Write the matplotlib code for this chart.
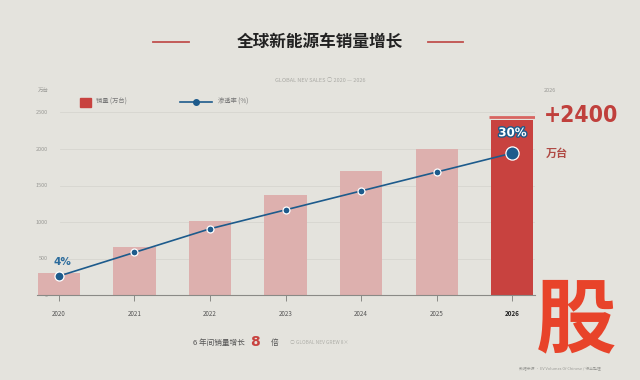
import matplotlib
matplotlib.use("Agg")
import matplotlib.pyplot as plt
import matplotlib.patheffects as pe
from matplotlib.lines import Line2D
from matplotlib.patches import Rectangle

plt.rcParams['font.family'] = ['Noto Sans CJK SC', 'DejaVu Sans']

years = ["2020", "2021", "2022", "2023", "2024", "2025", "2026"]
sales = [300, 660, 1010, 1370, 1700, 2000, 2400]          # 万台
penetration = [4, 9, 14, 18, 22, 26, 30]                   # %
y_ticks = [0, 500, 1000, 1500, 2000, 2500]

BG = "#e4e3dd"
PINK = "#ddb0ae"
RED = "#c8423f"
BLUE = "#1d5b8c"

W, H = 640, 380
fig = plt.figure(figsize=(W / 100, H / 100), dpi=100, facecolor=BG)

def fx(px):
    return px / W

def fy(py):
    return 1 - py / H

# main axes: x 37..535 px, y 90.6..295 px
ax = fig.add_axes([fx(37), fy(295), (535 - 37) / W, (295 - 90.6) / H])
ax.set_facecolor("none")
x = list(range(len(years)))
colors = [PINK] * (len(years) - 1) + [RED]
ax.bar(x, sales, width=0.56, color=colors, zorder=2)
ax.hlines(sales[-1] + 40, x[-1] - 0.31, x[-1] + 0.31, color="#d86561", lw=2, zorder=3)

ax.set_xlim(-0.29, 6.30)
ax.set_ylim(0, 2800)
for t in y_ticks[1:]:
    ax.axhline(t, xmin=0.046, xmax=1.0, color="#d6d5cf", lw=0.6, zorder=0)

for s in ["top", "right", "left"]:
    ax.spines[s].set_visible(False)
ax.spines["bottom"].set_color("#8a8a86")
ax.spines["bottom"].set_linewidth(0.8)

ax.set_xticks(x)
ax.set_xticklabels(years)
ax.tick_params(axis="x", length=4, width=0.7, color="#8a8a86", pad=7,
               labelsize=4.5, labelcolor="#555555")
ax.get_xticklabels()[-1].set_fontweight("bold")
ax.get_xticklabels()[-1].set_color("#222222")
ax.set_yticks(y_ticks)
ax.set_yticklabels([str(v) for v in y_ticks])
ax.tick_params(axis="y", length=0, pad=-8, labelsize=4, labelcolor="#9a9a96")

# penetration line on secondary scale
ax2 = ax.twinx()
ax2.set_ylim(0, 2800 / 64.8)
ax2.axis("off")
ax2.plot(x, penetration, color=BLUE, lw=1.2, zorder=4)
sizes = [6.5, 5, 5, 5, 5, 5, 9.5]
for xi, pv, ms in zip(x, penetration, sizes):
    ax2.plot(xi, pv, "o", color=BLUE, ms=ms, mec="white", mew=0.9, zorder=5)

ax2.text(x[0] + 0.04, penetration[0] + 2.9, f"{penetration[0]}%", color="#2b6b9c",
         fontsize=7.5, ha="center", va="center", fontweight="bold", family="DejaVu Sans")
ax2.text(x[-1], penetration[-1] + 4.3, f"{penetration[-1]}%", color="white",
         fontsize=8.5, ha="center", va="center", fontweight="bold", family="DejaVu Sans",
         path_effects=[pe.withStroke(linewidth=2, foreground=BLUE)], zorder=6)

# title
fig.text(0.5, fy(42), "全球新能源车销量增长", ha="center", va="center",
         fontsize=12, color="#222222", fontweight="bold")
fig.add_artist(Line2D([fx(153), fx(189)], [fy(42), fy(42)], color="#c0504d", lw=1.3))
fig.add_artist(Line2D([fx(428), fx(463)], [fy(42), fy(42)], color="#c0504d", lw=1.3))
fig.text(0.5, fy(80), "GLOBAL NEV SALES ○ 2020 — 2026", ha="center", va="center",
         fontsize=4, color="#aaaaa5")

# legend
fig.add_artist(Rectangle((fx(80), fy(107)), fx(11), 9 / H, color=RED))
fig.text(fx(96), fy(102), "销量 (万台)", ha="left", va="center", fontsize=4.5, color="#777777")
fig.add_artist(Line2D([fx(180), fx(212)], [fy(102), fy(102)], color=BLUE, lw=1.2))
fig.add_artist(Line2D([fx(196)], [fy(102)], marker="o", color=BLUE, ms=4))
fig.text(fx(218), fy(102), "渗透率 (%)", ha="left", va="center", fontsize=4.5, color="#777777")
fig.text(fx(43), fy(90), "万台", ha="center", va="center", fontsize=4, color="#9a9a96")
fig.text(fx(550), fy(90), "2026", ha="center", va="center", fontsize=4, color="#9a9a96")

# callout
fig.text(fx(544), fy(116), "+2400", ha="left", va="center", fontsize=16.5, color="#c0403c",
         family="DejaVu Sans", fontstretch="condensed", fontweight="bold")
fig.text(fx(546), fy(153), "万台", ha="left", va="center", fontsize=8, color="#b04a44",
         fontweight="bold")

# bottom note
fig.text(fx(245), fy(343), "6 年间销量增长", ha="right", va="center", fontsize=5.5, color="#555555")
fig.text(fx(255), fy(342), "8", ha="center", va="center", fontsize=10, color="#c8423f",
         fontweight="bold", family="DejaVu Sans")
fig.text(fx(275), fy(343), "倍", ha="center", va="center", fontsize=5.5, color="#555555")
fig.text(fx(290), fy(343), "○ GLOBAL NEV GREW 8×", ha="left", va="center", fontsize=3.5,
         color="#b0b0aa")

# watermark
fig.text(fx(576), fy(322), "股", ha="center", va="center", fontsize=58, color="#e8432a",
         fontweight="bold")
fig.text(fx(560), fy(368), "数据来源 · EV Volumes Of Chinese / 行业整理", ha="center",
         va="center", fontsize=2.8, color="#9a9a96")

fig.savefig("out.png", dpi=100, facecolor=BG)
